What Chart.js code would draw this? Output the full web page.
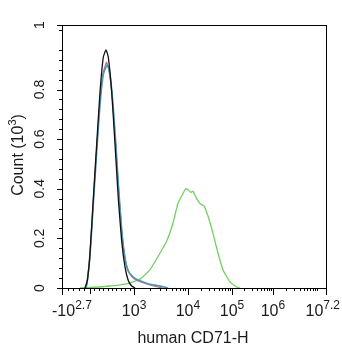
<!DOCTYPE html>
<html>
<head>
<meta charset="utf-8">
<script src="https://cdn.jsdelivr.net/npm/chart.js@4.4.0/dist/chart.umd.min.js"></script>
<style>
  html, body { margin: 0; padding: 0; background: #fff; }
  #wrap { width: 342px; height: 350px; position: relative; }
</style>
</head>
<body>
<div id="wrap"><canvas id="histo"></canvas></div>
<script>
// x is in display channels (0..1000 across the biexponential axis), y is count in 10^3
const blackX = [87, 96, 106, 118.6, 131.4, 144, 156.4, 166.7, 175.4, 188.3, 200.8, 213.3, 226, 238.6, 251, 264, 276.5];
const blackY = [0, 0.03, 0.14, 0.36, 0.58, 0.79, 0.93, 0.96, 0.93, 0.79, 0.58, 0.36, 0.19, 0.085, 0.03, 0.008, 0];

const blueX = [91, 96, 106, 118.6, 131.4, 144, 156.4, 171.6, 181.8, 193.2, 204.5, 215.9, 227.3, 238.6, 250, 269, 288, 307, 333, 360, 383, 402];
const blueY = [0, 0.03, 0.13, 0.34, 0.55, 0.74, 0.86, 0.90, 0.86, 0.74, 0.57, 0.38, 0.22, 0.12, 0.07, 0.045, 0.032, 0.024, 0.015, 0.01, 0.005, 0];

const redX = [91, 96, 106, 118.6, 131.4, 144, 156.4, 169, 179, 191, 203, 215, 227, 239, 251, 265, 285, 310, 340, 380];
const redY = [0, 0.03, 0.13, 0.35, 0.56, 0.76, 0.87, 0.91, 0.87, 0.76, 0.58, 0.39, 0.22, 0.12, 0.07, 0.045, 0.03, 0.02, 0.01, 0];

const greenX = [68, 144, 182, 245, 295, 333, 371, 397, 420, 439, 458, 469, 478, 489, 496, 510, 523, 538, 553, 572, 591, 610, 636, 662, 674];
const greenY = [0, 0.004, 0.008, 0.017, 0.035, 0.073, 0.14, 0.19, 0.26, 0.34, 0.38, 0.40, 0.395, 0.385, 0.39, 0.36, 0.34, 0.33, 0.29, 0.22, 0.14, 0.073, 0.025, 0.004, 0];

// axis labels
const xTickChan = [0, 273, 477, 644, 799, 1000];
const xTickBase = ['-10', '10', '10', '10', '10', '10'];
const xTickExp = ['2.7', '3', '4', '5', '6', '7.2'];
const yTickVals = [0, 0.2, 0.4, 0.6, 0.8, 1.06];
const yTickText = ['0', '0.2', '0.4', '0.6', '0.8', '1'];

// calibration of the biex axis: value -> channel
const axisVals = [-501, 0, 1e3, 1e4, 1e5, 1e6, Math.pow(10, 7.2)];
const axisChan = [0, 106, 273, 477, 644, 799, 1000];

const toPts = (xs, ys) => xs.map((x, i) => ({ x: x, y: ys[i] }));

function valToChan(v) {
  for (let i = 0; i < axisVals.length - 1; i++) {
    const a = axisVals[i], b = axisVals[i + 1];
    if (v >= a && v <= b) {
      let f;
      if (a > 0) f = (Math.log10(v) - Math.log10(a)) / (Math.log10(b) - Math.log10(a));
      else f = (v - a) / (b - a);
      return axisChan[i] + f * (axisChan[i + 1] - axisChan[i]);
    }
  }
  return null;
}

function minorXValues() {
  const out = [];
  for (let v = -400; v < 0; v += 100) out.push(v);
  for (let v = 100; v < 1000; v += 100) out.push(v);
  for (let d = 1e3; d < 1e7; d *= 10) {
    for (let m = 2; m <= 9; m++) out.push(m * d);
  }
  out.push(1e7);
  return out;
}

const FONT = '"Liberation Sans", Arial, sans-serif';
const INK = '#1b1b1b';

// draws text segments (base + superscript) on one baseline
function drawRich(ctx, segs, x, y, align) {
  let total = 0;
  segs.forEach(s => { ctx.font = s.size + 'px ' + FONT; s.w = ctx.measureText(s.t).width; total += s.w; });
  let cx = align === 'left' ? x : align === 'right' ? x - total : x - total / 2;
  ctx.textAlign = 'left';
  ctx.textBaseline = 'alphabetic';
  segs.forEach(s => {
    ctx.font = s.size + 'px ' + FONT;
    ctx.fillText(s.t, cx, y - (s.rise || 0));
    cx += s.w;
  });
}

const flowAxes = {
  id: 'flowAxes',
  afterDatasetsDraw(chart) {
    const ctx = chart.ctx;
    const area = chart.chartArea;
    const xs = chart.scales.x, ys = chart.scales.y;
    ctx.save();
    ctx.strokeStyle = '#000';
    ctx.lineWidth = 1;
    ctx.strokeRect(Math.round(area.left) + 0.5, Math.round(area.top) + 0.5,
      Math.round(area.right - area.left), Math.round(area.bottom - area.top));

    // y ticks
    ctx.beginPath();
    for (let k = 0; k <= 26; k++) {
      const v = k * 0.04;
      const py = Math.round(ys.getPixelForValue(v)) + 0.5;
      const len = (k % 5 === 0) ? 0 : 3;
      if (len) { ctx.moveTo(area.left - len, py); ctx.lineTo(area.left, py); }
    }
    yTickVals.forEach(v => {
      const py = Math.round(ys.getPixelForValue(v)) + 0.5;
      ctx.moveTo(area.left - 5, py); ctx.lineTo(area.left, py);
    });
    // x ticks
    minorXValues().forEach(v => {
      const c = valToChan(v);
      if (c === null) return;
      const px = Math.round(xs.getPixelForValue(c)) + 0.5;
      ctx.moveTo(px, area.bottom); ctx.lineTo(px, area.bottom + 3);
    });
    xTickChan.forEach(c => {
      const px = Math.round(xs.getPixelForValue(c)) + 0.5;
      ctx.moveTo(px, area.bottom); ctx.lineTo(px, area.bottom + 7);
    });
    const zx = Math.round(xs.getPixelForValue(valToChan(0))) + 0.5;
    ctx.moveTo(zx, area.bottom); ctx.lineTo(zx, area.bottom + 6);
    ctx.stroke();

    ctx.fillStyle = INK;
    // x tick labels
    xTickChan.forEach((c, i) => {
      const px = xs.getPixelForValue(c);
      let align = 'center', ax = px;
      if (i === 0) { align = 'left'; ax = px - 10; }
      if (i === xTickChan.length - 1) { align = 'right'; ax = px + 14; }
      drawRich(ctx, [{ t: xTickBase[i], size: 16 }, { t: xTickExp[i], size: 12, rise: 7 }], ax, area.bottom + 28, align);
    });
    // y tick labels, rotated
    yTickVals.forEach((v, i) => {
      const py = ys.getPixelForValue(v);
      ctx.save();
      ctx.translate(area.left - 18, py);
      ctx.rotate(-Math.PI / 2);
      drawRich(ctx, [{ t: yTickText[i], size: 14 }], 0, 0, 'center');
      ctx.restore();
    });
    // axis titles
    drawRich(ctx, [{ t: 'human CD71-H', size: 16 }], (area.left + area.right) / 2 - 1, area.bottom + 55, 'center');
    ctx.save();
    ctx.translate(23, 155);
    ctx.rotate(-Math.PI / 2);
    drawRich(ctx, [{ t: 'Count (10', size: 16 }, { t: '3', size: 11, rise: 7 }, { t: ')', size: 16 }], 0, 0, 'center');
    ctx.restore();
    ctx.restore();
  }
};

const lineSet = (label, xs, ys, color, order, width) => ({
  label: label,
  data: toPts(xs, ys),
  borderColor: color,
  borderWidth: width,
  pointRadius: 0,
  fill: false,
  tension: 0.15,
  order: order
});

new Chart(document.getElementById('histo'), {
  type: 'line',
  data: {
    datasets: [
      lineSet('Control', blackX, blackY, '#111111', 1, 1.3),
      lineSet('Isotype', blueX, blueY, '#4d95b6', 2, 1.6),
      lineSet('Unstained', redX, redY, '#b9706c', 3, 1.2),
      lineSet('CD71', greenX, greenY, '#74cf62', 4, 1.3)
    ]
  },
  options: {
    responsive: true,
    maintainAspectRatio: false,
    animation: false,
    layout: { padding: { left: 62, top: 25, right: 16, bottom: 62 } },
    plugins: { legend: { display: false }, tooltip: { enabled: false } },
    scales: {
      x: { type: 'linear', min: 0, max: 1000, display: false },
      y: { type: 'linear', min: 0, max: 1.06, display: false }
    }
  },
  plugins: [flowAxes]
});
</script>
</body>
</html>
